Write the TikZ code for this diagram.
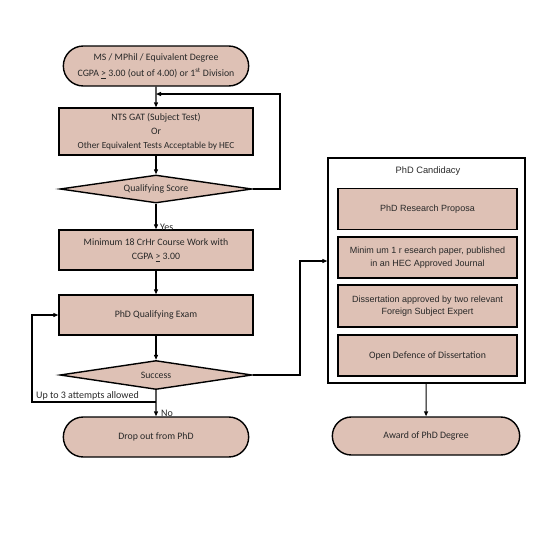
\documentclass[tikz,border=0pt]{standalone}
\usepackage{fontspec}
\setmainfont{Carlito}
\newfontfamily\arialfont{Liberation Sans}
\usetikzlibrary{shapes.geometric,shapes.misc,arrows.meta}
\definecolor{boxfill}{RGB}{222,193,181}
\definecolor{txt}{RGB}{40,40,40}

\begin{document}
\begin{tikzpicture}[x=1pt,y=-1pt,
       base/.style={draw,line width=1.4pt,fill=boxfill,text=txt,align=center,
              font=\fontsize{9.8}{14}\selectfont},
       term/.style={base,rounded rectangle,minimum width=192pt,minimum height=40pt},
       proc/.style={base,rectangle,minimum width=194pt,minimum height=40pt},
       decide/.style={base,diamond,aspect=6.5,minimum width=192pt,minimum height=29pt,inner sep=0pt},
       cproc/.style={base,rectangle,minimum width=179pt,minimum height=41pt,
              font=\arialfont\fontsize{9}{12.5}\selectfont},
       arr/.style={line width=1.1pt,-{Triangle[length=5pt,width=4pt]}},
       lbl/.style={text=txt,font=\fontsize{10}{10}\selectfont,inner sep=1pt}]
       
       \useasboundingbox (0,0) rectangle (556,536);
       
       %left column
       \node[term,font=\fontsize{9.8}{16}\selectfont] (start) at (156,66) {MS / MPhil / Equivalent Degree\\
              CGPA \underline{>} 3.00 (out of 4.00) or 1\textsuperscript{st} Division};
       \node[proc,minimum height=47pt] (nts) at (156,131.5) {NTS GAT (Subject Test)\\Or\\
              {\fontsize{9.3}{14}\selectfont Other Equivalent Tests Acceptable by HEC}};
       \node[decide,minimum height=28pt] (qs) at (156,189) {Qualifying Score};
       \node[proc] (mc) at (156,250) {Minimum 18 CrHr Course Work with\\CGPA \underline{>} 3.00};
       \node[proc] (qe) at (156,315) {PhD Qualifying Exam};
       \node[decide] (success) at (156,375) {Success};
       \node[term] (drop) at (156,437) {Drop out from PhD};
       
       %right column
       \node[draw,line width=1.4pt,minimum width=197pt,minimum height=225pt] (cand) at (426.5,270.5) {};
       \node[lbl,font=\arialfont\fontsize{9.3}{10}\selectfont] (ctitle) at (428,171) {PhD Candidacy};
       \node[cproc] (p1) at (427.5,209) {PhD Research Proposa};
       \node[cproc] (p2) at (427.5,257.5) {Minim um 1 r esearch paper, published\\in an HEC Approved Journal};
       \node[cproc,minimum height=42pt] (p3) at (427.5,306) {Dissertation approved by two relevant\\
              Foreign Subject Expert};
       \node[cproc,font=\fontsize{9.8}{14}\selectfont] (p4) at (427.5,355.5) {Open Defence of Dissertation};
       \node[term,minimum width=194pt,minimum height=38pt] (award) at (426,436) {Award of PhD Degree};
       
       \coordinate (ra) at (280,94);
       \coordinate (jr) at (300,261);
       \coordinate (la) at (32,402);
       
       \draw[arr] (start) -- (nts);
       \draw[arr] (nts) -- (qs);
       \draw[arr] (qs) -- (mc);
       \draw[arr] (mc) -- (qe);
       \draw[arr] (qe) -- (success);
       \draw[arr] (success) -- (drop);
       \draw[arr] (qs.east) -| (ra) -- (ra -| start.south);
       \draw[arr] (success.east) -| (jr) -- (jr -| cand.west);
       \draw[arr] (la -| success.south) -- (la) |- (qe.west);
       \draw[arr] (cand) -- (award);
       
       \node[lbl,anchor=west] (yes) at (159,227) {Yes};
       \node[lbl,anchor=west] (no) at (160,413) {No};
       \node[lbl,anchor=south west] (tries) at (35,401) {Up to 3 attempts allowed};
       
\end{tikzpicture}
\end{document}
